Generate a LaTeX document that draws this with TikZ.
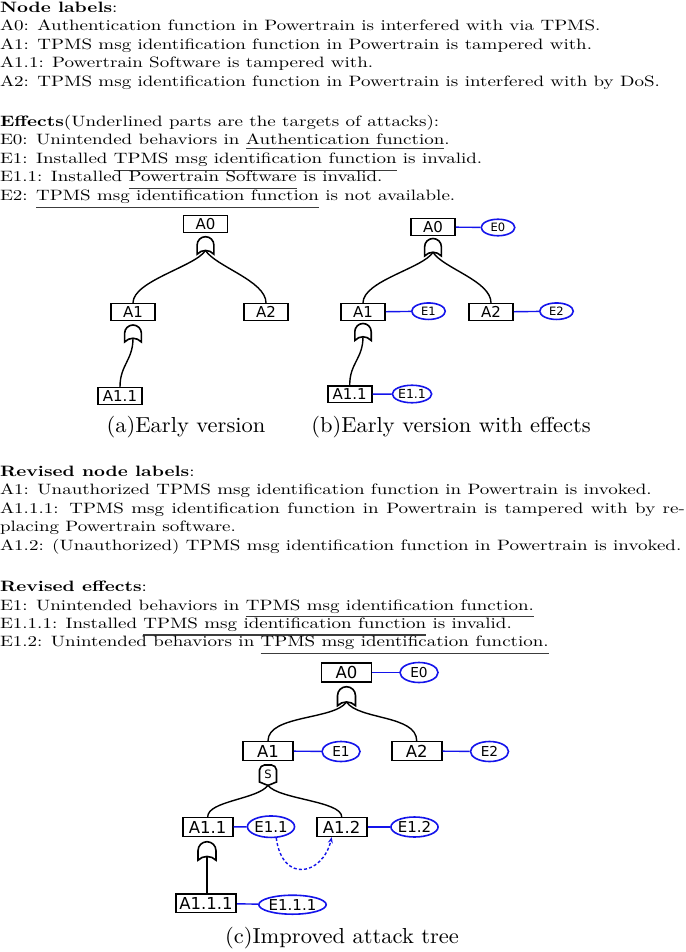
\documentclass[tikz,border=0pt]{standalone}
\usepackage{fontspec}
\usepackage{graphicx}
\usetikzlibrary{arrows.meta,shapes.geometric}
\newfontfamily\boxfont{DejaVu Sans}
\definecolor{effblue}{RGB}{20,20,235}
\definecolor{ulgray}{RGB}{60,60,60}
\newcommand\toptext[1]{\scalebox{1.9}[1.5]{#1}}
\newcommand\bottext[1]{\scalebox{1.9}[1.5]{#1}}
\newcommand\myul[2]{\leavevmode\setbox0\hbox{#2}\rlap{\color{ulgray}\rule[-#1]{\wd0}{0.8pt}}\box0\relax}
\tikzset{
 txt/.style={anchor=base west, inner sep=0pt, outer sep=0pt},
 captxt/.style={anchor=base, inner sep=0pt},
 abox/.style={draw, line width=1.6pt, inner sep=0pt, minimum width=44pt, minimum height=16.7pt, font=\boxfont\fontsize{15}{15}\selectfont},
 cbox/.style={abox, minimum width=50pt, minimum height=18.7pt, font=\boxfont\fontsize{16.5}{16.5}\selectfont},
 beff/.style={ellipse, draw=effblue, line width=1.6pt, inner sep=0pt, minimum width=33.5pt, minimum height=16.5pt, font=\boxfont\fontsize{11.5}{11.5}\selectfont},
 ceff/.style={beff, minimum width=38pt, minimum height=20pt, font=\boxfont\fontsize{13.7}{13.7}\selectfont},
 ceffb/.style={ceff, font=\boxfont\fontsize{15}{15}\selectfont},
 conn/.style={line width=1.4pt},
 effline/.style={draw=effblue, line width=1.4pt},
 gate/.style={line width=1.6pt, fill=white},
 pics/orgate/.style n args={2}{code={
   \draw[gate] (-#1,#2) -- (-#1,#1)
     .. controls (-#1,#1-0.552*#1) and (-0.552*#1,0) .. (0,0)
     .. controls (0.552*#1,0) and (#1,#1-0.552*#1) .. (#1,#1)
     -- (#1,#2) .. controls (0.45*#1,#2-5) and (-0.45*#1,#2-5) .. (-#1,#2) -- cycle;
   \coordinate (-out) at (0,#2-3.75);
 }},
 pics/seqgate/.style n args={2}{code={
   \draw[gate] (-#1,#2) -- (-#1,5)
     .. controls (-#1,2.24) and (-#1+2.76,0) .. (-#1+5,0) -- (#1-5,0)
     .. controls (#1-2.76,0) and (#1,2.24) .. (#1,5)
     -- (#1,#2) .. controls (0.5*#1,#2+1.5) and (2,#2+3) .. (0,#2+3.3)
     .. controls (-2,#2+3) and (-0.5*#1,#2+1.5) .. (-#1,#2) -- cycle;
   \node[font=\boxfont\fontsize{11.5}{11.5}\selectfont, inner sep=0pt] (-lbl) at (0,#2/2+1) {S};
   \coordinate (-out) at (0,#2+3.3);
 }},
}
\begin{document}
\begin{tikzpicture}[x=1pt,y=-1pt]
\useasboundingbox (0,0) rectangle (685,952);
\fill[white] (0,0) rectangle (685,952);

% ---- Block 1
\node[txt] (t1) at (0,12.5) {\toptext{\textbf{Node labels}:}};
\node[txt] (t2) at (0,31) {\toptext{A0: Authentication function in Powertrain is interfered with via TPMS.}};
\node[txt] (t3) at (0,49.5) {\toptext{A1: TPMS msg identification function in Powertrain is tampered with.}};
\node[txt] (t4) at (0,68) {\toptext{A1.1: Powertrain Software is tampered with.}};
\node[txt] (t5) at (0,86.5) {\toptext{A2: TPMS msg identification function in Powertrain is interfered with by DoS.}};

% ---- Block 2
\node[txt] (e1) at (0,126.3) {\toptext{\textbf{Effects}(Underlined parts are the targets of attacks):}};
\node[txt] (e2) at (0,144.8) {\toptext{E0: Unintended behaviors in \myul{2.9pt}{Authentication function}.}};
\node[txt] (e3) at (0,163.3) {\toptext{E1: Installed \myul{5.1pt}{TPMS msg identification function} is invalid.}};
\node[txt] (e4) at (0,181.7) {\toptext{E1.1: Installed \myul{5.1pt}{Powertrain Software} is invalid.}};
\node[txt] (e5) at (0,200.2) {\toptext{E2: \myul{5.5pt}{TPMS msg identification function} is not available.}};

% ---- Tree (a)
\node[abox] (aA0) at (205.5,224) {A0};
\node[abox] (aA1) at (133,312) {A1};
\node[abox] (aA2) at (266,312) {A2};
\node[abox] (aA11) at (120,396) {A1.1};
\pic (gaA0) at (205.5,236.7) {orgate={8.4}{17.5}};
\pic (gaA1) at (133,325) {orgate={8.4}{17}};
\draw[conn] (gaA0-out) .. controls +(-10,16) and +(0,-22) .. (aA1.north);
\draw[conn] (gaA0-out) .. controls +(10,16) and +(0,-22) .. (aA2.north);
\draw[conn] (gaA1-out) .. controls +(0,22) and +(0,-22) .. (aA11.north);
\node[captxt] (capa) at (186,432) {\scalebox{2.25}[2.17]{(a)Early version}};

% ---- Tree (b)
\node[abox] (bA0) at (433,227) {A0};
\node[beff] (bE0) at (498,227.5) {E0};
\node[abox] (bA1) at (363,312) {A1};
\node[beff] (bE1) at (428.5,311.2) {E1};
\node[abox] (bA2) at (491,312) {A2};
\node[beff] (bE2) at (556.5,311.2) {E2};
\node[abox] (bA11) at (349.7,394.2) {A1.1};
\node[beff, minimum width=34.5pt, minimum height=17.5pt, font=\boxfont\fontsize{12.5}{12.5}\selectfont] (bE11) at (412,394) {E1.1};
\pic (gbA0) at (433,238.5) {orgate={8.4}{17.5}};
\pic (gbA1) at (363,323.5) {orgate={8.2}{17}};
\draw[conn] (gbA0-out) .. controls +(-10,16) and +(0,-22) .. (bA1.north);
\draw[conn] (gbA0-out) .. controls +(10,16) and +(0,-22) .. (bA2.north);
\draw[conn] (gbA1-out) .. controls +(0,22) and +(0,-22) .. (bA11.north);
\draw[effline] (bA0) -- (bE0);
\draw[effline] (bA1) -- (bE1);
\draw[effline] (bA2) -- (bE2);
\draw[effline] (bA11) -- (bE11);
\node[captxt] (capb) at (451,432) {\scalebox{2.25}[2.17]{(b)Early version with effects}};

% ---- Block 3
\node[txt] (r1) at (0,476) {\bottext{\textbf{Revised node labels}:}};
\node[txt] (r2) at (0,494.5) {\bottext{A1: Unauthorized TPMS msg identification function in Powertrain is invoked.}};
\node[txt] (r3) at (0,513) {\bottext{\makebox[360.5pt][s]{A1.1.1: TPMS msg identification function in Powertrain is tampered with by re-}}};
\node[txt] (r4) at (0,531.5) {\bottext{placing Powertrain software.}};
\node[txt] (r5) at (0,550) {\bottext{A1.2: (Unauthorized) TPMS msg identification function in Powertrain is invoked.}};

% ---- Block 4
\node[txt] (s1) at (0,591.7) {\bottext{\textbf{Revised effects}:}};
\node[txt] (s2) at (0,610) {\bottext{E1: Unintended behaviors in \myul{4.5pt}{TPMS msg identification function.}}};
\node[txt] (s3) at (0,628.3) {\bottext{E1.1.1: Installed \myul{4.9pt}{TPMS msg identification function} is invalid.}};
\node[txt] (s4) at (0,646.7) {\bottext{E1.2: Unintended behaviors in \myul{5.1pt}{TPMS msg identification function.}}};

% ---- Tree (c)
\node[cbox] (cA0) at (346.5,672.5) {A0};
\node[ceff] (cE0) at (419,672.5) {E0};
\node[cbox] (cA1) at (268,751) {A1};
\node[ceff] (cE1) at (341,751.5) {E1};
\node[cbox] (cA2) at (416.7,751) {A2};
\node[ceff] (cE2) at (489.5,751.5) {E2};
\node[cbox] (cA11) at (207.7,827) {A1.1};
\node[ceffb, minimum height=21.5pt] (cE11) at (271,826.7) {E1.1};
\node[cbox] (cA12) at (341.7,827) {A1.2};
\node[ceffb] (cE12) at (414.5,827) {E1.2};
\node[cbox, minimum width=60.5pt] (cA111) at (206,903.3) {A1.1.1};
\node[ceffb, minimum width=53.5pt, minimum height=19pt] (cE111) at (292.5,904.7) {E1.1.1};
\pic (gcA0) at (346.5,686.7) {orgate={9}{19}};
\pic (gcA1) at (268,765) {seqgate={8.5}{17}};
\pic (gcA11) at (207,841.7) {orgate={9}{18.5}};
\draw[conn] (gcA0-out) .. controls +(-12,18) and +(0,-26) .. (cA1.north);
\draw[conn] (gcA0-out) .. controls +(12,18) and +(0,-26) .. (cA2.north);
\draw[conn] (gcA1-out) .. controls +(-10,14) and +(0,-16) .. (cA11.north);
\draw[conn] (gcA1-out) .. controls +(10,14) and +(0,-16) .. (cA12.north);
\draw[conn] (gcA11-out) -- (gcA11-out |- cA111.north);
\draw[effline] (cA0) -- (cE0);
\draw[effline] (cA1) -- (cE1);
\draw[effline] (cA2) -- (cE2);
\draw[effline] (cA11) -- (cE11);
\draw[effline] (cA12) -- (cE12);
\draw[effline] (cA111) -- (cE111);
\draw[effline, dash pattern=on 3pt off 2.2pt, -{Stealth[length=6pt,width=5pt]}] (cE11.-65) .. controls +(6,46) and +(-9,38) .. ([xshift=-10pt]cA12.south);
\node[captxt] (capc) at (342,943) {\scalebox{2.25}[2.17]{(c)Improved attack tree}};
\end{tikzpicture}
\end{document}
